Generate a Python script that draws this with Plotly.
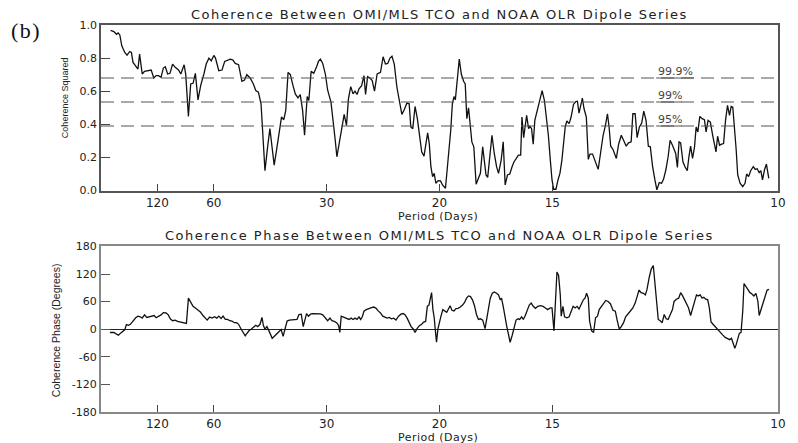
import plotly.graph_objects as go

# Frequency in 10^-3 cycles/day; x-axis labelled as period in days
freq_top = [1.42, 1.90, 2.29, 2.53, 2.78, 3.07, 3.51, 3.85, 4.24, 4.49, 4.73, 5.22, 5.46, 5.70, 6.09, 6.43,
            6.92, 7.41, 7.80, 8.14, 8.48, 8.87, 9.21, 9.50, 9.84, 10.19, 10.57, 10.96, 11.45, 11.79, 12.28,
            12.52, 12.91, 13.25, 13.60, 13.94, 14.33, 14.72, 15.20, 15.54, 15.94, 16.28, 16.67, 16.91, 17.40,
            17.88, 18.27, 18.62, 19.10, 19.49, 19.83, 20.32, 20.81, 21.20, 21.54, 22.03, 22.51, 22.86, 23.25,
            23.64, 23.93, 24.22, 24.61, 24.95, 25.29, 25.58, 25.93, 26.27, 26.66, 27.00, 27.29, 27.63, 27.97,
            28.36, 28.70, 29.09, 29.43, 29.78, 30.07, 30.46, 30.70, 31.04, 31.43, 31.82, 32.12, 32.41, 32.75,
            33.14, 33.48, 33.97, 34.31, 34.60, 34.84, 35.19, 35.53, 35.92, 36.26, 36.55, 36.89, 37.23, 37.52,
            37.82, 38.11, 38.50, 38.84, 39.08, 39.38, 39.72, 40.06, 40.40, 40.79, 41.28, 41.67, 42.01, 42.35,
            42.69, 42.98, 43.32, 43.71, 44.10, 44.44, 44.79, 45.18, 45.52, 45.76, 46.05, 46.39, 46.73, 47.08,
            47.37, 47.71, 48.00, 48.25, 48.49, 48.73, 48.98, 49.22, 49.46, 49.81, 50.15, 50.44, 50.88, 51.17,
            51.41, 51.66, 51.90, 52.14, 52.34, 52.63, 52.92, 53.22, 53.56, 53.80, 54.04, 54.29, 54.53, 54.78,
            55.07, 55.41, 55.75, 56.04, 56.38, 56.63, 56.87, 57.12, 57.46, 57.75, 58.09, 58.43, 58.72, 59.11,
            59.41, 59.70, 60.04, 60.38, 60.72, 61.01, 61.35, 61.65, 61.99, 62.18, 62.43, 62.67, 62.87, 63.16,
            63.35, 63.60, 63.84, 64.08, 64.43, 64.77, 65.16, 65.50, 65.79, 66.08, 66.37, 66.62, 66.86, 67.20,
            67.50, 67.79, 68.08, 68.32, 68.57, 68.81, 69.15, 69.44, 69.79, 70.13, 70.37, 70.61, 70.86, 71.10,
            71.35, 71.69, 71.98, 72.22, 72.61, 72.95, 73.44, 73.78, 74.17, 74.51, 74.81, 75.05, 75.29, 75.63,
            75.88, 76.12, 76.46, 76.85, 77.19, 77.58, 77.92, 78.31, 78.56, 78.90, 79.19, 79.53, 79.87, 80.17,
            80.51, 80.85, 81.14, 81.48, 81.82, 82.11, 82.46, 82.80, 83.09, 83.43, 83.77, 84.06, 84.41, 84.65,
            84.89, 85.14, 85.38, 85.62, 85.96, 86.26, 86.60, 86.84, 87.09, 87.38, 87.67, 87.91, 88.16, 88.45,
            88.79, 89.13, 89.38, 89.67, 90.01, 90.35, 90.59, 90.84, 91.08, 91.37, 91.67, 91.96, 92.25, 92.54,
            92.84, 93.08, 93.32, 93.57, 93.81, 94.05, 94.40, 94.79, 95.13, 95.37, 95.66, 95.96, 96.35, 96.64,
            96.93, 97.22, 97.47, 97.71, 98.00, 98.29, 98.64]
coh_sq = [0.968, 0.960, 0.944, 0.952, 0.940, 0.874, 0.834, 0.818, 0.840, 0.834, 0.774, 0.744, 0.734, 0.824,
          0.704, 0.720, 0.724, 0.728, 0.680, 0.694, 0.694, 0.684, 0.740, 0.748, 0.704, 0.708, 0.764, 0.744,
          0.728, 0.704, 0.760, 0.700, 0.448, 0.644, 0.648, 0.708, 0.548, 0.634, 0.704, 0.764, 0.800, 0.784,
          0.816, 0.800, 0.724, 0.728, 0.780, 0.788, 0.794, 0.788, 0.768, 0.760, 0.660, 0.668, 0.700, 0.680,
          0.644, 0.604, 0.594, 0.524, 0.344, 0.120, 0.264, 0.374, 0.254, 0.154, 0.244, 0.344, 0.444, 0.428,
          0.484, 0.714, 0.700, 0.634, 0.584, 0.560, 0.580, 0.484, 0.334, 0.568, 0.544, 0.720, 0.708, 0.744,
          0.780, 0.794, 0.768, 0.704, 0.606, 0.534, 0.424, 0.304, 0.204, 0.284, 0.384, 0.460, 0.394, 0.554,
          0.628, 0.584, 0.600, 0.580, 0.614, 0.634, 0.694, 0.580, 0.688, 0.680, 0.664, 0.600, 0.704, 0.714,
          0.808, 0.764, 0.768, 0.800, 0.812, 0.764, 0.624, 0.528, 0.460, 0.488, 0.528, 0.524, 0.384, 0.374,
          0.508, 0.434, 0.304, 0.234, 0.208, 0.274, 0.348, 0.284, 0.144, 0.084, 0.104, 0.044, 0.060, 0.058,
          0.034, 0.014, 0.144, 0.244, 0.364, 0.524, 0.568, 0.548, 0.668, 0.794, 0.704, 0.660, 0.644, 0.434,
          0.500, 0.404, 0.294, 0.264, 0.038, 0.074, 0.104, 0.264, 0.184, 0.094, 0.080, 0.224, 0.334, 0.224,
          0.144, 0.104, 0.184, 0.294, 0.034, 0.094, 0.100, 0.144, 0.174, 0.194, 0.214, 0.214, 0.444, 0.320,
          0.394, 0.454, 0.374, 0.388, 0.374, 0.280, 0.424, 0.484, 0.524, 0.604, 0.544, 0.444, 0.334, 0.184,
          0.064, 0.008, 0.008, 0.064, 0.104, 0.184, 0.284, 0.384, 0.420, 0.404, 0.444, 0.520, 0.538, 0.540,
          0.468, 0.524, 0.558, 0.494, 0.444, 0.188, 0.220, 0.220, 0.184, 0.128, 0.224, 0.334, 0.394, 0.464,
          0.384, 0.268, 0.248, 0.224, 0.194, 0.280, 0.334, 0.304, 0.268, 0.288, 0.294, 0.464, 0.464, 0.320,
          0.384, 0.408, 0.480, 0.424, 0.268, 0.264, 0.144, 0.064, 0.004, 0.048, 0.044, 0.068, 0.124, 0.204,
          0.304, 0.274, 0.254, 0.224, 0.140, 0.294, 0.288, 0.174, 0.144, 0.120, 0.204, 0.268, 0.194, 0.264,
          0.384, 0.354, 0.448, 0.434, 0.428, 0.354, 0.424, 0.414, 0.334, 0.284, 0.234, 0.328, 0.274, 0.280,
          0.284, 0.424, 0.514, 0.454, 0.508, 0.504, 0.384, 0.254, 0.094, 0.044, 0.024, 0.044, 0.100, 0.084,
          0.120, 0.144, 0.128, 0.132, 0.108, 0.120, 0.064, 0.124, 0.160, 0.074]

freq_bot = [1.32, 1.90, 2.29, 2.58, 2.88, 3.27, 3.51, 3.75, 4.05, 4.34, 4.73, 5.12, 5.46, 5.80, 6.09, 6.43,
            6.77, 7.16, 7.50, 7.85, 8.14, 8.53, 8.87, 9.21, 9.60, 9.94, 10.23, 10.57, 10.96, 11.31, 11.65,
            12.04, 12.43, 12.62, 12.91, 13.26, 13.60, 13.99, 14.38, 14.72, 15.06, 15.35, 15.69, 16.03, 16.42,
            16.76, 17.11, 17.40, 17.74, 18.03, 18.37, 18.71, 19.01, 19.35, 19.69, 20.03, 20.32, 20.71, 21.00,
            21.30, 21.59, 21.88, 22.17, 22.51, 22.86, 23.15, 23.49, 23.78, 23.98, 24.22, 24.51, 24.81, 25.10,
            25.29, 25.68, 26.02, 26.32, 26.61, 26.90, 27.19, 27.49, 27.83, 28.22, 28.61, 28.95, 29.24, 29.58,
            29.87, 30.07, 30.36, 30.65, 30.95, 31.29, 31.68, 32.02, 32.41, 32.75, 33.14, 33.48, 33.82, 34.11,
            34.45, 34.80, 35.09, 35.28, 35.48, 35.77, 36.06, 36.40, 36.65, 36.94, 37.23, 37.52, 37.82, 38.11,
            38.35, 38.60, 38.84, 39.18, 39.57, 39.96, 40.30, 40.64, 40.94, 41.28, 41.62, 41.91, 42.25, 42.59,
            42.88, 43.23, 43.57, 43.96, 44.30, 44.64, 44.93, 45.22, 45.52, 45.81, 46.15, 46.39, 46.69, 46.98,
            47.37, 47.66, 47.95, 48.20, 48.44, 48.68, 48.83, 49.03, 49.22, 49.37, 49.56, 49.76, 49.95, 50.19,
            50.49, 50.78, 51.07, 51.32, 51.56, 51.85, 52.14, 52.44, 52.73, 53.07, 53.41, 53.70, 54.00, 54.29,
            54.58, 54.87, 55.17, 55.46, 55.75, 56.04, 56.38, 56.73, 56.97, 57.21, 57.50, 57.80, 58.09, 58.43,
            58.72, 58.97, 59.16, 59.41, 59.70, 59.94, 60.23, 60.43, 60.72, 61.01, 61.31, 61.60, 61.84, 62.13,
            62.38, 62.67, 62.96, 63.26, 63.55, 63.84, 64.18, 64.52, 64.91, 65.30, 65.64, 65.98, 66.37, 66.62,
            66.91, 67.11, 67.35, 67.59, 67.84, 67.98, 68.23, 68.47, 68.81, 69.15, 69.44, 69.74, 70.03, 70.32,
            70.61, 70.91, 71.25, 71.49, 71.73, 71.98, 72.17, 72.47, 72.76, 73.05, 73.34, 73.59, 73.93, 74.27,
            74.56, 74.90, 75.24, 75.63, 75.97, 76.27, 76.56, 76.85, 77.19, 77.49, 77.83, 78.17, 78.56, 78.90,
            79.19, 79.48, 79.78, 80.12, 80.41, 80.65, 80.99, 81.29, 81.58, 81.82, 82.07, 82.31, 82.60, 82.89,
            83.19, 83.48, 83.77, 84.06, 84.41, 84.65, 84.99, 85.33, 85.62, 85.92, 86.21, 86.50, 86.79, 87.09,
            87.38, 87.67, 87.96, 88.21, 88.50, 88.79, 89.04, 89.33, 89.62, 89.86, 90.11, 90.40, 90.69, 90.98,
            91.28, 91.57, 91.86, 92.20, 92.54, 92.84, 93.13, 93.37, 93.62, 93.81, 94.01, 94.30, 94.54, 94.79,
            94.98, 95.27, 95.57, 95.86, 96.15, 96.44, 96.74, 97.03, 97.22, 97.51, 97.81, 98.10, 98.39, 98.68]
phase = [-7.1, -7.1, -10.7, -12.8, -8.5, -3.6, -1.4, 9.9, 8.5, 10.7, 17.8, 24.9, 28.4, 27.0, 24.1, 31.2,
         25.6, 27.0, 29.8, 29.8, 24.9, 28.4, 31.2, 36.2, 35.5, 31.2, 22.7, 18.5, 19.9, 17.0, 15.6, 15.6,
         13.5, 12.8, 67.5, 56.8, 49.7, 45.4, 41.2, 36.9, 29.8, 25.6, 19.9, 26.3, 24.1, 27.0, 24.1, 28.4,
         23.4, 28.4, 21.3, 21.3, 18.5, 17.8, 14.2, 14.2, 10.7, 0.0, -8.5, -14.2, -8.5, -2.8, 0.0, 3.6, 8.5,
         5.7, 10.7, 25.6, 8.5, 0.0, 5.7, -3.6, -12.8, -19.9, -14.2, -8.5, -5.7, -0.7, -15.6, 3.6, 17.8,
         19.9, 19.9, 21.3, 21.3, 32.0, 32.7, 5.7, 17.8, 34.1, 28.4, 32.7, 34.1, 34.1, 34.1, 33.4, 31.2, 24.1,
         18.5, 24.1, 18.5, 17.0, 14.2, 8.5, -7.1, 28.4, 27.0, 25.6, 24.1, 21.3, 24.1, 21.3, 24.1, 21.3, 27.0,
         21.3, 27.0, 39.1, 42.6, 45.4, 46.9, 48.3, 45.4, 39.8, 35.5, 28.4, 27.0, 24.1, 25.6, 22.7, 24.1,
         19.9, 28.4, 32.7, 34.1, 31.2, 24.1, 14.2, 5.7, 0.0, -7.1, 1.4, 7.1, 10.7, 15.6, 17.0, 49.7, 52.5,
         65.3, 79.5, 42.6, 24.9, 0.0, -28.4, 0.0, 14.2, 27.0, 42.6, 39.1, 36.9, 44.0, 51.1, 41.2, 39.8,
         44.7, 45.4, 48.3, 52.5, 58.2, 67.5, 72.4, 71.0, 63.9, 51.1, 32.0, 21.3, 22.7, 19.9, 1.4, 21.3, 46.2,
         67.5, 78.1, 80.9, 78.1, 74.6, 63.9, 67.5, 49.7, 21.3, 5.7, -14.2, -28.4, -14.2, 5.7, 19.9, 22.7,
         21.3, 27.0, 21.3, 29.8, 41.2, 52.5, 56.8, 49.7, 45.4, 49.7, 51.1, 49.7, 46.2, 42.6, 46.2, 46.2,
         -3.6, 63.9, 124.3, 117.2, 74.6, 28.4, 49.7, 27.0, 24.9, 27.0, 39.1, 49.7, 46.2, 49.7, 44.0, 55.4,
         63.9, 67.5, 78.1, 67.5, 17.8, -3.6, -7.1, 24.9, 28.4, 42.6, 49.7, 56.8, 62.5, 60.4, 55.4, 41.2,
         39.1, 17.8, 0.0, 5.7, 14.2, 27.0, 34.1, 39.1, 46.2, 56.8, 71.0, 85.2, 79.5, 78.1, 74.6, 86.6, 113.6,
         131.4, 138.5, 99.4, 49.7, 21.3, 18.5, 14.2, 32.0, 22.7, 21.3, 32.0, 42.6, 60.4, 65.3, 67.5, 79.5,
         72.4, 63.9, 55.4, 46.2, 29.8, 46.2, 63.9, 74.6, 72.4, 74.6, 67.5, 69.6, 65.3, 63.9, 46.2, 15.6,
         10.7, 5.7, 1.4, -3.6, -7.1, -12.8, -17.8, -21.3, -22.7, -19.9, -32.0, -41.2, -34.1, -21.3, -8.5,
         -7.1, 39.1, 99.4, 92.3, 85.2, 79.5, 76.7, 72.4, 78.1, 60.4, 29.8, 42.6, 56.8, 67.5, 85.2, 86.6]

thresholds = [0.68, 0.535, 0.39]
threshold_labels = ["99.9%", "99%", "95%"]
period_ticks = [120, 60, 30, 20, 15, 10]
coh_ticks = [0.0, 0.2, 0.4, 0.6, 0.8, 1.0]
phase_ticks = [-180, -120, -60, 0, 60, 120, 180]

xtickvals = [1000.0 / p for p in period_ticks]
xticktext = [str(p) for p in period_ticks]

TXT = "DejaVu Sans"
fig = go.Figure()
fig.add_trace(go.Scatter(x=freq_top, y=coh_sq, mode="lines", line=dict(color="#111", width=1.3),
                         xaxis="x", yaxis="y", showlegend=False, hoverinfo="skip"))
fig.add_trace(go.Scatter(x=freq_bot, y=phase, mode="lines", line=dict(color="#111", width=1.3),
                         xaxis="x2", yaxis="y2", showlegend=False, hoverinfo="skip"))


def xax(anchor, lc, lw):
    return dict(range=[0, 100], tickvals=xtickvals, ticktext=xticktext, ticks="inside", ticklen=7,
                tickwidth=1.2, tickcolor="#444", showline=True, mirror=True, linecolor=lc, linewidth=lw,
                showgrid=False, zeroline=False, anchor=anchor,
                tickfont=dict(family=TXT, size=12, color="#222"))


fig.update_layout(
    width=798, height=443, paper_bgcolor="white", plot_bgcolor="white",
    margin=dict(l=101, r=13, t=25, b=30),
    xaxis=xax("y", "#555", 1.5),
    xaxis2=xax("y2", "#888", 2),
    yaxis=dict(range=[0, 1], domain=[0.5722, 1], tickvals=coh_ticks,
               ticktext=["%.1f" % v for v in coh_ticks], ticks="inside", ticklen=9, tickwidth=1.2,
               tickcolor="#444", showline=True, mirror=True, linecolor="#555", linewidth=1.5,
               showgrid=False, zeroline=False, tickfont=dict(family=TXT, size=11, color="#222")),
    yaxis2=dict(range=[-180, 180], domain=[0, 0.4278], tickvals=phase_ticks,
                ticktext=[str(v) for v in phase_ticks], ticks="inside", ticklen=9, tickwidth=1.2,
                tickcolor="#555", showline=True, mirror=True, linecolor="#888", linewidth=2,
                showgrid=False, zeroline=True, zerolinecolor="#222", zerolinewidth=1,
                tickfont=dict(family=TXT, size=11, color="#222")),
)

shapes = []
annotations = []
label_x0 = 82.0
for thr, lab in zip(thresholds, threshold_labels):
    shapes.append(dict(type="line", xref="x domain", yref="y", x0=0, x1=1, y0=thr, y1=thr,
                       line=dict(color="#555", width=1.2, dash="13px,7px")))
    ulen = 5.6 if lab == "99.9%" else 3.8
    shapes.append(dict(type="line", xref="x", yref="y", x0=label_x0, x1=label_x0 + ulen, y0=thr, y1=thr,
                       line=dict(color="#555", width=1.2)))
    annotations.append(dict(x=label_x0, y=thr, xref="x", yref="y", xanchor="left", yanchor="bottom",
                            text=lab, showarrow=False, yshift=-2,
                            font=dict(family=TXT, size=11, color="#444")))

sp = lambda s, ls: '<span style="letter-spacing:%spx">%s</span>' % (ls, s)
annotations += [
    dict(x=0.5, y=1.0284, xref="paper", yref="paper", xanchor="center", yanchor="middle", showarrow=False,
         text=sp("Coherence Between OMI/MLS TCO and NOAA OLR Dipole Series", 1.5),
         font=dict(family=TXT, size=13, color="#222")),
    dict(x=0.5, y=0.4562, xref="paper", yref="paper", xanchor="center", yanchor="middle", showarrow=False,
         text=sp("Coherence Phase Between OMI/MLS TCO and NOAA OLR Dipole Series", 1.5),
         font=dict(family=TXT, size=13, color="#222")),
    dict(x=0.4985, y=0.504, xref="paper", yref="paper", xanchor="center", yanchor="middle", showarrow=False,
         text=sp("Period (Days)", 0.5), font=dict(family=TXT, size=11, color="#222")),
    dict(x=0.4985, y=-0.065, xref="paper", yref="paper", xanchor="center", yanchor="middle", showarrow=False,
         text=sp("Period (Days)", 0.5), font=dict(family=TXT, size=11, color="#222")),
    dict(x=-0.0541, y=0.812, xref="paper", yref="paper", xanchor="center", yanchor="middle", showarrow=False,
         text="Coherence Squared", textangle=-90,
         font=dict(family="Liberation Sans", size=9, color="#222")),
    dict(x=-0.0665, y=0.2113, xref="paper", yref="paper", xanchor="center", yanchor="middle", showarrow=False,
         text="Coherence Phase (Degrees)", textangle=-90,
         font=dict(family="Liberation Sans", size=10.5, color="#222")),
    dict(x=-0.136, y=0.9845, xref="paper", yref="paper", xanchor="left", yanchor="middle", showarrow=False,
         text=sp("(b)", 1.5), font=dict(family="Liberation Serif", size=22, color="#111")),
]
fig.update_layout(shapes=shapes, annotations=annotations)
fig.write_html("out.html")
